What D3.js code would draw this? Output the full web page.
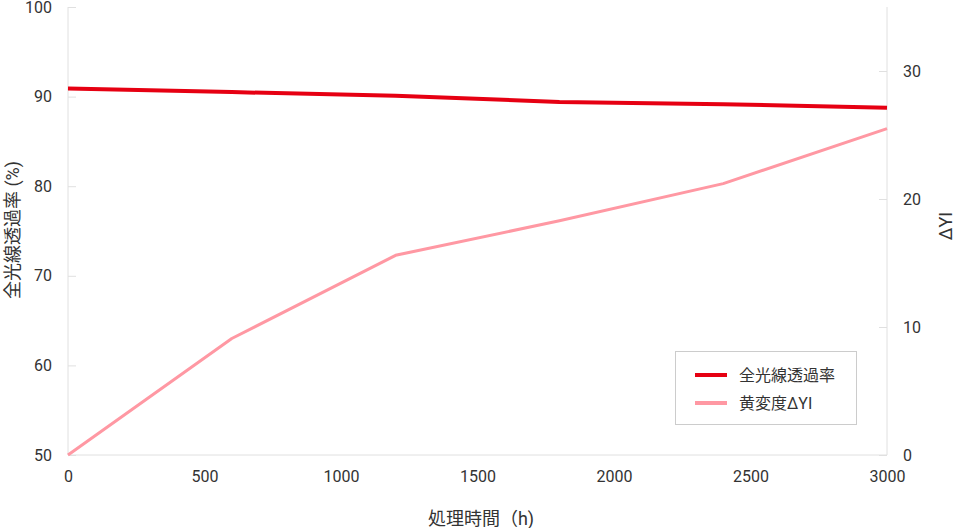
<!DOCTYPE html>
<html>
<head>
<meta charset="utf-8">
<script src="https://cdn.jsdelivr.net/npm/d3@7"></script>
<style>
  body { margin: 0; background: #fff; }
  text { font-family: Roboto, "Noto Sans CJK JP", sans-serif; fill: #333; }
</style>
</head>
<body>
<svg id="chart" width="954" height="528"></svg>
<script>
const hours = [0, 600, 1200, 1800, 2400, 3000];
const transmittance = [90.9, 90.5, 90.1, 89.4, 89.15, 88.75];
const yellowness = [0, 9.1, 15.6, 18.3, 21.2, 25.5];
const xTicks = [0, 500, 1000, 1500, 2000, 2500, 3000];
const leftTicks = [50, 60, 70, 80, 90, 100];
const rightTicks = [0, 10, 20, 30];
const seriesNames = ["全光線透過率", "黄変度ΔYI"];

const svg = d3.select("#chart");
const m = { left: 68, right: 887, top: 7, bottom: 455 };
const axisColor = "#e0e0e0";

const x = d3.scaleLinear().domain([0, 3000]).range([m.left, m.right]);
const yL = d3.scaleLinear().domain([50, 100]).range([m.bottom, m.top]);
const yR = d3.scaleLinear().domain([0, 35]).range([m.bottom, m.top]);

// 軸線
svg.append("line").attr("x1", m.left).attr("x2", m.left)
  .attr("y1", m.top).attr("y2", m.bottom).attr("stroke", axisColor);
svg.append("line").attr("x1", m.right).attr("x2", m.right)
  .attr("y1", m.top).attr("y2", m.bottom).attr("stroke", axisColor);
svg.append("line").attr("x1", m.left).attr("x2", m.right)
  .attr("y1", m.bottom).attr("y2", m.bottom).attr("stroke", axisColor);

// 左軸
const gL = svg.append("g")
  .attr("transform", `translate(${m.left},0)`)
  .call(d3.axisLeft(yL).tickValues(leftTicks).tickSize(-8).tickPadding(16));
gL.select(".domain").remove();
gL.selectAll(".tick line").attr("stroke", axisColor);
gL.selectAll(".tick text").attr("font-size", 16).attr("fill", "#333");

// 右軸
const gR = svg.append("g")
  .attr("transform", `translate(${m.right},0)`)
  .call(d3.axisRight(yR).tickValues(rightTicks).tickSize(-8).tickPadding(16));
gR.select(".domain").remove();
gR.selectAll(".tick line").attr("stroke", axisColor);
gR.selectAll(".tick text").attr("font-size", 16).attr("fill", "#333");

// 下軸
const gX = svg.append("g")
  .attr("transform", `translate(0,${m.bottom})`)
  .call(d3.axisBottom(x).tickValues(xTicks).tickSize(0).tickPadding(16).tickFormat(d3.format("d")));
gX.select(".domain").remove();
gX.selectAll(".tick text").attr("font-size", 16).attr("fill", "#333");

// 軸タイトル
svg.append("text")
  .attr("transform", "translate(12,230) rotate(-90)")
  .attr("text-anchor", "middle").attr("dominant-baseline", "central")
  .attr("font-size", 18).text("全光線透過率 (%)");
svg.append("text")
  .attr("transform", "translate(945,226) rotate(-90)")
  .attr("text-anchor", "middle").attr("dominant-baseline", "central")
  .attr("font-size", 18).text("ΔYI");
svg.append("text")
  .attr("x", 481).attr("y", 518)
  .attr("text-anchor", "middle").attr("dominant-baseline", "central")
  .attr("font-size", 18).text("処理時間（h)");

// 線
const lineL = d3.line().x((d, i) => x(hours[i])).y(d => yL(d));
const lineR = d3.line().x((d, i) => x(hours[i])).y(d => yR(d));

svg.append("path").datum(yellowness)
  .attr("d", lineR).attr("fill", "none")
  .attr("stroke", "#ff98a3").attr("stroke-width", 3)
  .attr("stroke-linejoin", "round");
svg.append("path").datum(transmittance)
  .attr("d", lineL).attr("fill", "none")
  .attr("stroke", "#e60012").attr("stroke-width", 4)
  .attr("stroke-linejoin", "round");

// 凡例
const legend = svg.append("g").attr("transform", "translate(675,351)");
legend.append("rect").attr("x", 0.5).attr("y", 0.5)
  .attr("width", 181).attr("height", 73)
  .attr("fill", "#fff").attr("stroke", "#ccc");
const legendItems = [
  { name: seriesNames[0], color: "#e60012", width: 4, y: 24 },
  { name: seriesNames[1], color: "#ff98a3", width: 4, y: 52 }
];
const li = legend.selectAll("g.item").data(legendItems).enter()
  .append("g").attr("class", "item")
  .attr("transform", d => `translate(0,${d.y})`);
li.append("line").attr("x1", 20).attr("x2", 52)
  .attr("stroke", d => d.color).attr("stroke-width", d => d.width);
li.append("text").attr("x", 64).attr("dominant-baseline", "central")
  .attr("font-size", 16).text(d => d.name);
</script>
</body>
</html>
